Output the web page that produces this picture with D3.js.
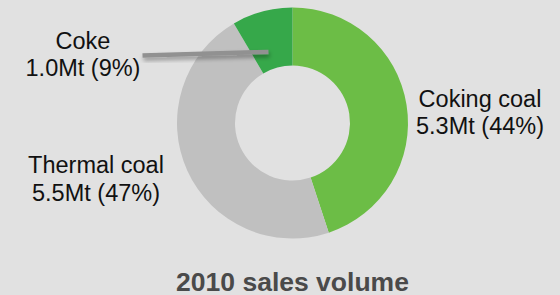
<!DOCTYPE html>
<html>
<head>
<meta charset="utf-8">
<script src="https://cdn.jsdelivr.net/npm/d3@7"></script>
<style>
  html, body { margin: 0; padding: 0; background: #e1e1e1; }
  svg { display: block; }
  text { font-family: "Liberation Sans", Arial, sans-serif; }
</style>
</head>
<body>
<div id="chart"></div>
<script>
const categories = ["Coking coal", "Thermal coal", "Coke"];
const volumes = [5.3, 5.5, 1.0];
const volumeLabels = ["5.3Mt", "5.5Mt", "1.0Mt"];
const percentLabels = ["44%", "47%", "9%"];
const title = "2010 sales volume";
const palette = ["#6cbd46", "#c0c0c0", "#36a84a"];

const W = 560, H = 295;
const cx = 292.5, cy = 123, rOuter = 115.5, rInner = 57.5;

const svg = d3.select("#chart").append("svg")
  .attr("width", W).attr("height", H);

svg.append("rect").attr("width", W).attr("height", H).attr("fill", "#e1e1e1");

const defs = svg.append("defs");
const f = defs.append("filter").attr("id", "shadow")
  .attr("x", "-20%").attr("y", "-200%").attr("width", "140%").attr("height", "500%");
f.append("feDropShadow").attr("dx", 1).attr("dy", 3).attr("stdDeviation", 2.2)
  .attr("flood-color", "#000").attr("flood-opacity", 0.35);

const data = categories.map((c, i) => ({ cat: c, value: volumes[i], vol: volumeLabels[i], pct: percentLabels[i], i }));

const pie = d3.pie().value(d => d.value).sort(null);
const arcs = pie(data);
const arc = d3.arc().innerRadius(rInner).outerRadius(rOuter);

const g = svg.append("g").attr("transform", `translate(${cx},${cy})`);
g.selectAll("path").data(arcs).join("path")
  .attr("d", arc)
  .attr("fill", d => palette[d.data.i]);

// leader line for Coke
const coke = arcs[2];
const mid = (coke.startAngle + coke.endAngle) / 2;
const endPt = d3.pointRadial(mid - 0.06, 75);
svg.append("line")
  .attr("x1", 142.5).attr("y1", 55.5)
  .attr("x2", cx + endPt[0]).attr("y2", cy + endPt[1])
  .attr("stroke", "#919191").attr("stroke-width", 4.5)
  .attr("filter", "url(#shadow)");

const labelPos = [
  { x: 480, y1: 107, y2: 134 },
  { x: 96, y1: 173, y2: 201 },
  { x: 83, y1: 49, y2: 76 }
];

const fs = 23.5;
data.forEach((d, i) => {
  const p = labelPos[i];
  const t = svg.append("text").attr("text-anchor", "middle")
    .attr("fill", "#111").style("font-size", fs + "px");
  t.append("tspan").attr("x", p.x).attr("y", p.y1).text(d.cat);
  t.append("tspan").attr("x", p.x).attr("y", p.y2).text(`${d.vol} (${d.pct})`);
});

svg.append("text").attr("x", cx).attr("y", 291)
  .attr("text-anchor", "middle").style("font-size", "26.5px").attr("font-weight", "bold")
  .attr("fill", "#4a4a4a").text(title);
</script>
</body>
</html>
